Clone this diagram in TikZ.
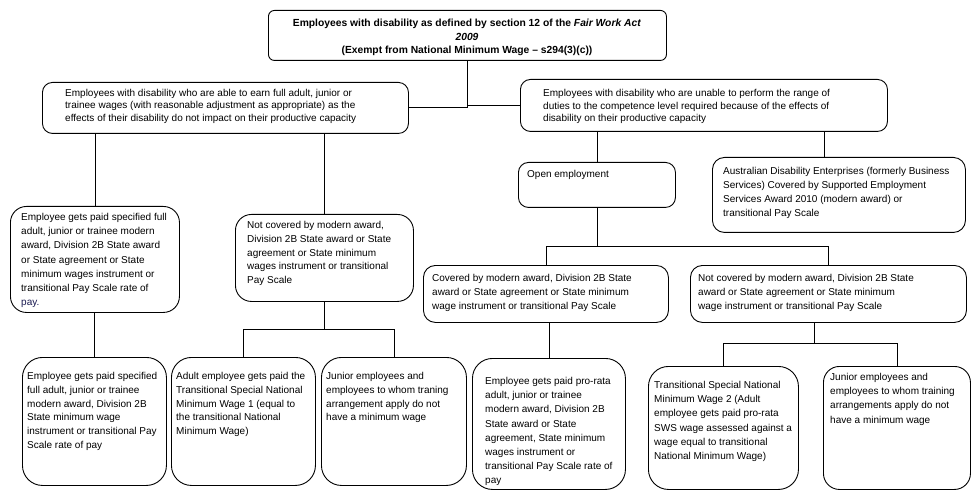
\documentclass[tikz,border=0pt]{standalone}
\usepackage{fontspec}
\setmainfont{Liberation Sans}
\usetikzlibrary{calc}
\definecolor{paynavy}{RGB}{25,25,80}
\begin{document}
\begin{tikzpicture}[x=1pt,y=-1pt,
  bx/.style={draw, line width=0.9pt, inner sep=0pt, anchor=north west},
  tx/.style={anchor=north west, inner sep=0pt, align=left, font=\fontsize{10}{14}\selectfont},
  conn/.style={draw, line width=0.9pt}]
\useasboundingbox (0,0) rectangle (976,494);
% boxes
\node[bx, rounded corners=6pt, minimum width=398pt, minimum height=50pt] (top) at (268,10) {};
\node[anchor=north, inner sep=0pt, align=center, font=\fontsize{10.3}{13.5}\selectfont\bfseries] (toptext) at (467,19)
  {Employees with disability as defined by section 12 of the \textit{Fair Work Act}\\ \textit{2009}\\ (Exempt from National Minimum Wage \textendash{} s294(3)(c))};

\node[bx, rounded corners=10pt, minimum width=366pt, minimum height=51pt] (L1) at (42,82) {};
\node[tx, font=\fontsize{10}{12.5}\selectfont] (L1t) at (65,89)
  {Employees with disability who are able to earn full adult, junior or\\ trainee wages (with reasonable adjustment as appropriate) as the\\ effects of their disability do not impact on their productive capacity};

\node[bx, rounded corners=10pt, minimum width=367pt, minimum height=52pt] (R1) at (520,79) {};
\node[tx, font=\fontsize{10}{12.7}\selectfont] (R1t) at (543,89)
  {Employees with disability who are unable to perform the range of\\ duties to the competence level required because of the effects of\\ disability on their productive capacity};

\node[bx, rounded corners=10pt, minimum width=157pt, minimum height=45pt] (Open) at (518,162) {};
\node[tx] (Opent) at (527,170) {Open employment};

\node[bx, rounded corners=12pt, minimum width=253pt, minimum height=75pt] (ADE) at (712,157) {};
\node[tx] (ADEt) at (723,167)
  {Australian Disability Enterprises (formerly Business\\ Services) Covered by Supported Employment\\ Services Award 2010 (modern award) or\\ transitional Pay Scale};

\node[bx, rounded corners=16pt, minimum width=169pt, minimum height=106pt] (L2a) at (10,206) {};
\node[tx, font=\fontsize{10}{14.2}\selectfont] (L2at) at (21,213)
  {Employee gets paid specified full\\ adult, junior or trainee modern\\ award, Division 2B State award\\ or State agreement or State\\ minimum wages instrument or\\ transitional Pay Scale rate of\\ \textcolor{paynavy}{pay.}};

\node[bx, rounded corners=16pt, minimum width=178pt, minimum height=87pt] (L2b) at (235,214) {};
\node[tx, font=\fontsize{10}{13.8}\selectfont] (L2bt) at (247,221)
  {Not covered by modern award,\\ Division 2B State award or State\\ agreement or State minimum\\ wages instrument or transitional\\ Pay Scale};

\node[bx, rounded corners=12pt, minimum width=245pt, minimum height=57pt] (C1) at (423,265) {};
\node[tx] (C1t) at (432,274)
  {Covered by modern award, Division 2B State\\ award or State agreement or State minimum\\ wage instrument or transitional Pay Scale};

\node[bx, rounded corners=12pt, minimum width=276pt, minimum height=57pt] (N2) at (690,265) {};
\node[tx] (N2t) at (698,274)
  {Not covered by modern award, Division 2B State\\ award or State agreement or State minimum\\ wage instrument or transitional Pay Scale};

\node[bx, rounded corners=20pt, minimum width=144pt, minimum height=128pt] (L3a) at (22,357) {};
\node[tx, font=\fontsize{10}{13.8}\selectfont] (L3at) at (27,372)
  {Employee gets paid specified\\ full adult, junior or trainee\\ modern award, Division 2B\\ State minimum wage\\ instrument or transitional Pay\\ Scale rate of pay};

\node[bx, rounded corners=20pt, minimum width=144pt, minimum height=128pt] (L3b) at (171,357) {};
\node[tx, font=\fontsize{10}{13.8}\selectfont] (L3bt) at (176,372)
  {Adult employee gets paid the\\ Transitional Special National\\ Minimum Wage 1 (equal to\\ the transitional National\\ Minimum Wage)};

\node[bx, rounded corners=20pt, minimum width=145pt, minimum height=128pt] (L3c) at (321,357) {};
\node[tx, font=\fontsize{10}{13.8}\selectfont] (L3ct) at (326,372)
  {Junior employees and\\ employees to whom traning\\ arrangement apply do not\\ have a minimum wage};

\node[bx, rounded corners=20pt, minimum width=153pt, minimum height=131pt] (L3d) at (472,358) {};
\node[tx, font=\fontsize{10}{14.2}\selectfont] (L3dt) at (485,377)
  {Employee gets paid pro-rata\\ adult, junior or trainee\\ modern award, Division 2B\\ State award or State\\ agreement, State minimum\\ wages instrument or\\ transitional Pay Scale rate of\\ pay};

\node[bx, rounded corners=20pt, minimum width=150pt, minimum height=123pt] (L3e) at (648,366) {};
\node[tx, font=\fontsize{10}{14.2}\selectfont] (L3et) at (654,381)
  {Transitional Special National\\ Minimum Wage 2 (Adult\\ employee gets paid pro-rata\\ SWS wage assessed against a\\ wage equal to transitional\\ National Minimum Wage)};

\node[bx, rounded corners=16pt, minimum width=147pt, minimum height=123pt] (L3f) at (823,366) {};
\node[tx, font=\fontsize{10}{14.2}\selectfont] (L3ft) at (830,373)
  {Junior employees and\\ employees to whom training\\ arrangements apply do not\\ have a minimum wage};

% connectors
\draw[conn] (top.south) |- (L1.east);
\draw[conn] (top.south) |- (R1.west);
\draw[conn] (L1.south -| L2a.north) -- (L2a.north);
\draw[conn] (L1.south -| L2b.north) -- (L2b.north);
\draw[conn] (R1.south -| Open.north) -- (Open.north);
\coordinate (adeTop) at ([xshift=-15pt]ADE.north);
\draw[conn] (R1.south -| adeTop) -- (adeTop);
\coordinate (j1) at ($(Open.south)+(0,39)$);
\draw[conn] (Open.south) -- (j1);
\draw[conn] (C1.north) |- (j1) -| (N2.north);
\draw[conn] (C1.south -| L3d.north) -- (L3d.north);
\coordinate (j3) at ([xshift=-14pt]N2.south);
\coordinate (j3b) at ($(j3)+(0,21)$);
\draw[conn] (j3) -- (j3b);
\draw[conn] (L3e.north) |- (j3b) -| (L3f.north);
\draw[conn] (L2a.south -| L3a.north) -- (L3a.north);
\coordinate (j2) at ($(L2b.south)+(0,28)$);
\draw[conn] (L2b.south) -- (j2);
\draw[conn] (L3b.north) |- (j2) -| (L3c.north);
\end{tikzpicture}
\end{document}
